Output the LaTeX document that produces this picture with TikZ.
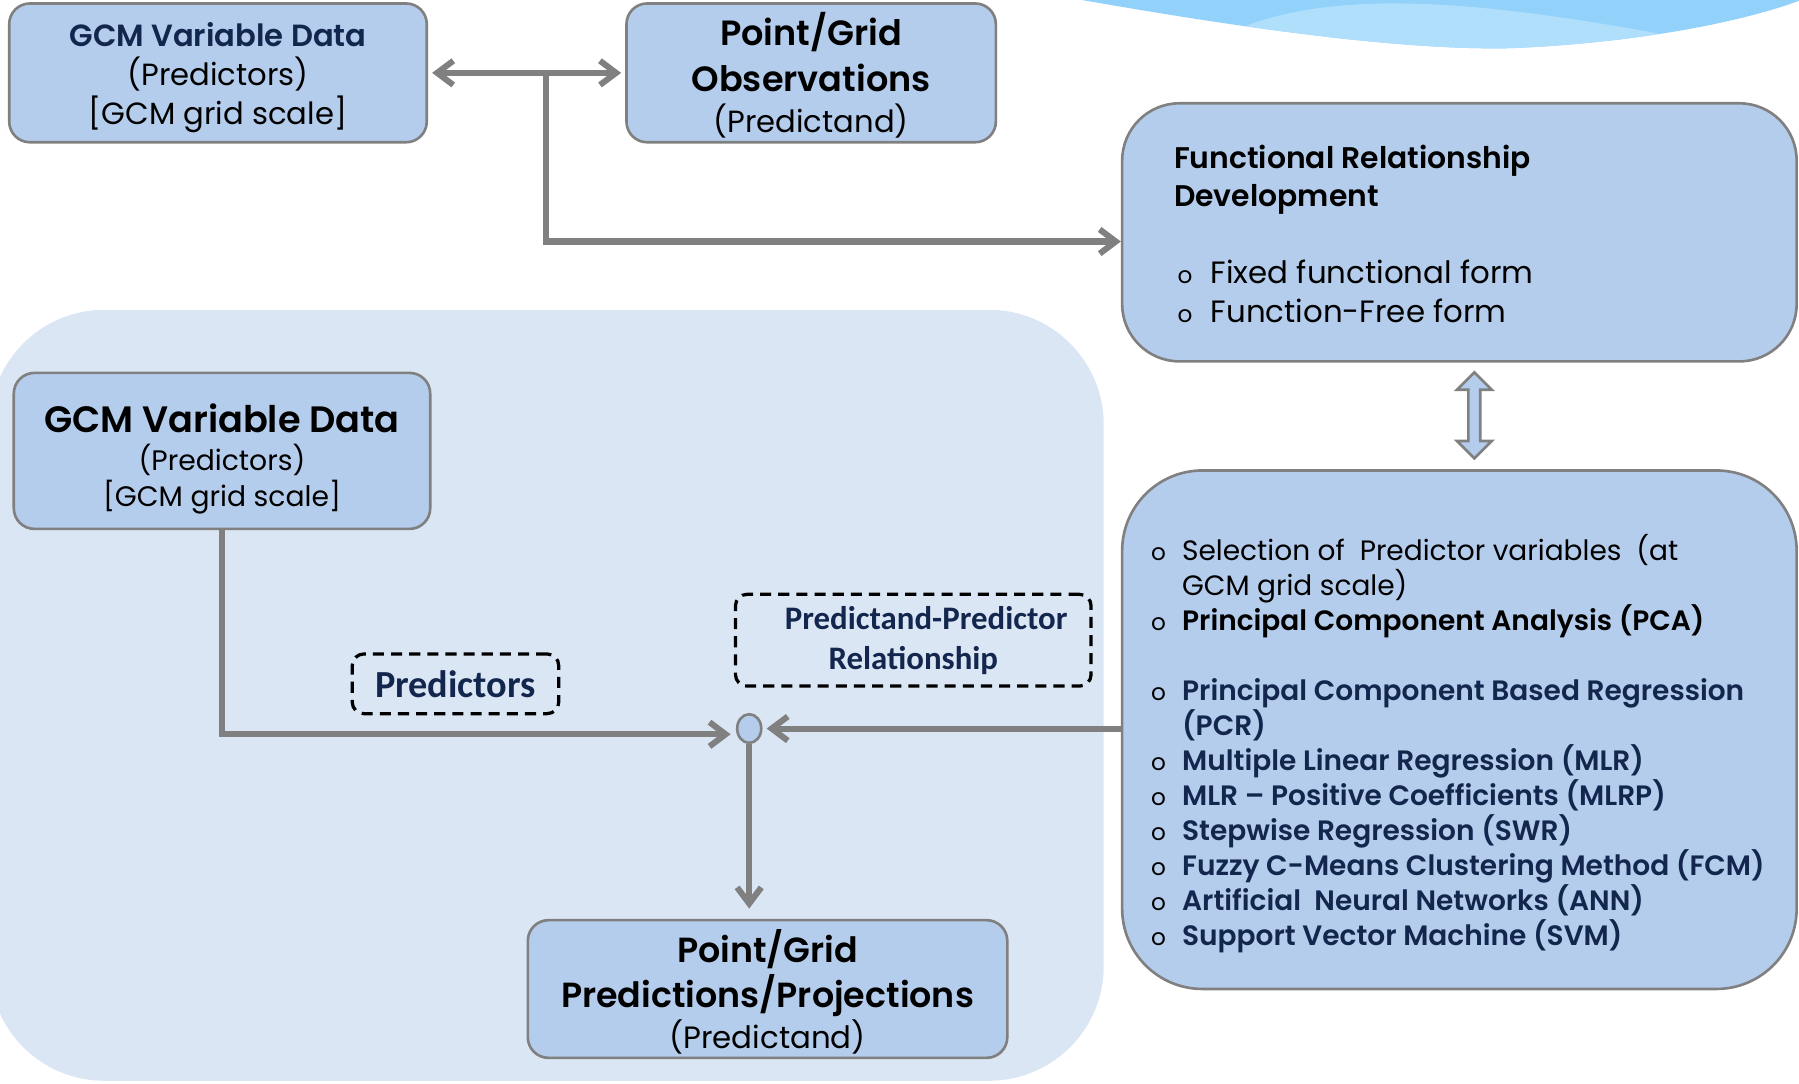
\documentclass[tikz,border=0pt]{standalone}
\usepackage{fontspec}
\setmainfont{Poppins}[BoldFont={Poppins SemiBold}]
\newfontfamily\calfont{Carlito}
\usepackage{xcolor}
\usetikzlibrary{arrows.meta, shapes.geometric, shapes.arrows, calc}

\definecolor{boxblue}{RGB}{181,205,236}
\definecolor{areablue}{RGB}{219,230,245}
\definecolor{waveblue}{RGB}{146,209,250}
\definecolor{wavelight}{RGB}{176,223,252}
\definecolor{linegray}{RGB}{128,128,128}
\definecolor{navy}{RGB}{18,38,78}
\newcommand*{\bul}{{\fontsize{11.5}{10}\selectfont\mdseries o}}
\newcommand*{\bitem}[1]{\makebox[#1][l]{\bul}}

\tikzset{
    box/.style={draw=linegray, fill=boxblue, line width=1.3pt, rounded corners=0.36cm, inner sep=0pt},
    boxtext/.style={align=center, inner sep=0pt},
    listtext/.style={anchor=north west, align=left, inner sep=0pt},
    tag/.style={draw=black, dash pattern=on 5.5pt off 3.5pt, line width=1.6pt, rounded corners=0.2cm, text=navy, inner sep=0pt, align=center},
    flow/.style={draw=linegray, line width=3pt, ->},
}

\begin{document}
\begin{tikzpicture}[x=0.02cm, y=-0.02cm, >={Straight Barb[length=8pt,width=12pt]}]

    \useasboundingbox (0,0) rectangle (1568,944);

    % background shapes
    \fill[areablue, rounded corners=2cm] (-9,270) rectangle (962,942);
    \begin{scope}
        \clip (943,0) .. controls (1080,24) and (1220,44) .. (1316,42) .. controls (1420,38) and (1520,20) .. (1575,-2) -- cycle;
        \fill[waveblue] (940,-5) rectangle (1575,50);
        \fill[wavelight] (1060,34) .. controls (1140,-8) and (1260,-6) .. (1460,32) -- (1460,60) -- (1060,60) -- cycle;
    \end{scope}

    % top row
    \node[box, minimum width=7.28cm, minimum height=2.42cm] (gcmtop) at (190,63.5) {};
    \node[boxtext, font=\fontsize{15.2}{19.2}\selectfont] (gcmtoptext) at (190,67.5)
        {{\color{navy}\bfseries GCM Variable Data}\\(Predictors)\\{[}GCM grid scale{]}};
    \node[box, minimum width=6.44cm, minimum height=2.42cm] (obs) at (707,63.5) {};
    \node[boxtext, font=\fontsize{15.2}{20}\selectfont] (obstext) at (707,65.5)
        {{\fontsize{17.4}{20}\selectfont\bfseries Point/Grid}\\[2.8pt]{\fontsize{17.4}{20}\selectfont\bfseries Observations}\\(Predictand)};

    % functional relationship
    \node[box, rounded corners=1cm, minimum width=11.76cm, minimum height=4.5cm] (funcbox) at (1272,202.5) {};
    \node[listtext, font=\fontsize{15.3}{19.06}\selectfont\lineskiplimit-50pt] (functext) at (1023,123)
        {\rule{0pt}{13.3pt}{\fontsize{14.8}{19.06}\selectfont\bfseries Functional Relationship}\\
         {\fontsize{14.8}{19.06}\selectfont\bfseries Development}\\[19.06pt]
         \hspace{0.06cm}\bitem{0.58cm}Fixed functional form\\
         \hspace{0.06cm}\bitem{0.58cm}Function-Free form};

    \node[double arrow, draw=linegray, fill=boxblue, line width=1.3pt, rotate=90, minimum height=1.5cm,
        minimum width=0.56cm, double arrow head extend=0.2cm, inner sep=0.08cm] (updown) at (1285,362) {};

    % methods
    \node[box, rounded corners=1.4cm, minimum width=11.76cm, minimum height=9.04cm] (methods) at (1272,636) {};
    \node[listtext, font=\fontsize{13.9}{17.4}\selectfont\lineskiplimit-50pt] (methodtext) at (1003,465)
        {\rule{0pt}{12.2pt}\bitem{0.54cm}Selection of\ \ Predictor variables\ \ (at\\
         \makebox[0.54cm]{}GCM grid scale)\\
         \bitem{0.54cm}\textbf{Principal Component Analysis (PCA)}\\[17.4pt]
         \bitem{0.54cm}\textcolor{navy}{\bfseries Principal Component Based Regression}\\
         \makebox[0.54cm]{}\textcolor{navy}{\bfseries (PCR)}\\
         \bitem{0.54cm}\textcolor{navy}{\bfseries Multiple Linear Regression (MLR)}\\
         \bitem{0.54cm}\textcolor{navy}{\bfseries MLR -- Positive Coefficients (MLRP)}\\
         \bitem{0.54cm}\textcolor{navy}{\bfseries Stepwise Regression (SWR)}\\
         \bitem{0.54cm}\textcolor{navy}{\bfseries Fuzzy C-Means Clustering Method (FCM)}\\
         \bitem{0.54cm}\textcolor{navy}{\bfseries Artificial\ \ Neural Networks (ANN)}\\
         \bitem{0.54cm}\textcolor{navy}{\bfseries Support Vector Machine (SVM)}};

    % lower part
    \node[box, minimum width=7.26cm, minimum height=2.72cm] (gcmlow) at (193.5,393) {};
    \node[boxtext, font=\fontsize{14}{17.6}\selectfont] (gcmlowtext) at (193.5,400)
        {{\fontsize{18.2}{17.6}\selectfont\bfseries GCM Variable Data}\\[1.2pt](Predictors)\\{[}GCM grid scale{]}};
    \node[box, minimum width=8.36cm, minimum height=2.4cm] (predbox) at (669,862) {};
    \node[boxtext, font=\fontsize{15.3}{20.5}\selectfont] (predboxtext) at (669,864.5)
        {{\fontsize{17.3}{20}\selectfont\bfseries Point/Grid}\\[1.7pt]{\fontsize{17.3}{20}\selectfont\bfseries Predictions/Projections}\\(Predictand)};

    \node[tag, minimum width=3.6cm, minimum height=1.04cm, font=\calfont\bfseries\fontsize{19}{22}\selectfont] (predlabel) at (397,596) {Predictors};
    \node[tag, minimum width=6.2cm, minimum height=1.6cm, font=\calfont\bfseries\fontsize{16.3}{19.9}\selectfont] (rellabel) at (796,558) {\hspace{0.45cm}Predictand-Predictor\\Relationship};

    \node[ellipse, draw=linegray, fill=boxblue, line width=1.3pt, minimum width=0.42cm, minimum height=0.5cm, inner sep=0pt] (junc) at (653,635) {};

    % connectors
    \coordinate (split) at (476,64);
    \draw[flow, <->, shorten <=2pt, shorten >=2pt] (gcmtop) -- (obs);
    \draw[flow] (split) |- ($(funcbox.west)+(0,8)$);
    \draw[flow, shorten >=2pt] (gcmlow.south) |- ($(junc.west)+(-1,5)$);
    \draw[flow, shorten >=2pt] (methods.west |- junc) -- (junc.east);
    \draw[flow, shorten >=0.18cm] (junc.south) -- (junc.south |- predbox.north);

\end{tikzpicture}
\end{document}
